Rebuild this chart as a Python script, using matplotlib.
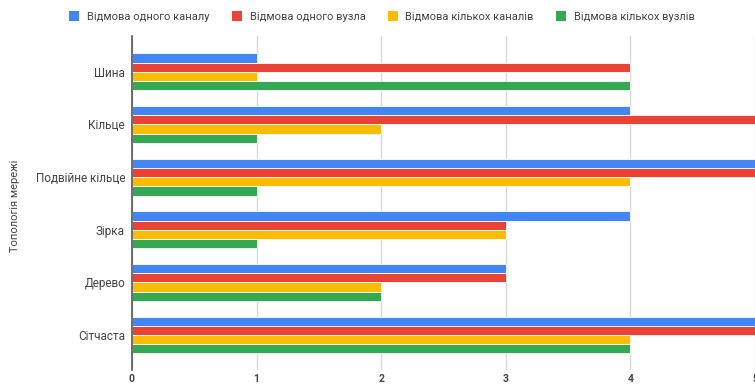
import numpy as np
import matplotlib
matplotlib.use("Agg")
import matplotlib.pyplot as plt
from matplotlib.patches import Patch

plt.rcParams['font.family'] = ['Roboto', 'DejaVu Sans']

# дані
topologii = ["Шина", "Кільце", "Подвійне кільце", "Зірка", "Дерево", "Сітчаста"]
serii = ["Відмова одного каналу", "Відмова одного вузла",
         "Відмова кількох каналів", "Відмова кількох вузлів"]
odyn_kanal = [1, 4, 5, 4, 3, 5]
odyn_vuzol = [4, 5, 5, 3, 3, 5]
kilka_kanaliv = [1, 2, 4, 3, 2, 4]
kilka_vuzliv = [4, 1, 1, 1, 2, 4]
kolory = ["#4285F4", "#EA4335", "#FBBC04", "#34A853"]

fig = plt.figure(figsize=(7.55, 3.88), dpi=100)
ax = fig.add_axes([0.1748, 0.0464, 0.8252, 0.8606])

y = np.arange(len(topologii))
h = 0.175
for i, (vals, c) in enumerate(zip([odyn_kanal, odyn_vuzol, kilka_kanaliv, kilka_vuzliv], kolory)):
    ax.barh(y + (i - 1.5) * h, vals, height=h, color=c, edgecolor="white", linewidth=0.6, zorder=3)

ax.set_xlim(0, 5)
ax.set_ylim(5.665, -0.68)
ax.set_yticks(y)
ax.set_yticklabels(topologii, fontsize=8.5, color="#444444")
ax.set_xticks([0, 1, 2, 3, 4, 5])
ax.tick_params(axis="both", length=0)
ax.tick_params(axis="x", labelsize=7.5, labelcolor="#444444", pad=3)
ax.tick_params(axis="y", pad=5)
for lab in ax.get_xticklabels():
    lab.set_fontweight("bold")
ax.grid(axis="x", color="#d9d9d9", linewidth=1, zorder=0)
for s in ["top", "right", "bottom"]:
    ax.spines[s].set_visible(False)
ax.spines["left"].set_color("#555555")
ax.spines["left"].set_linewidth(1.2)
ax.spines["left"].set_zorder(4)

fig.text(0.02, 0.47, "Топологія мережі", rotation=90, fontsize=8,
         color="#444444", ha="center", va="center")

handles = [Patch(facecolor=c, edgecolor="none") for c in kolory]
fig.legend(handles, serii, loc="center", bbox_to_anchor=(0.506, 0.957), ncol=4,
           frameon=False, fontsize=8, handlelength=0.9, handleheight=0.9,
           handletextpad=0.7, columnspacing=2.0, labelcolor="#444444")

fig.savefig("out.png", dpi=100)
